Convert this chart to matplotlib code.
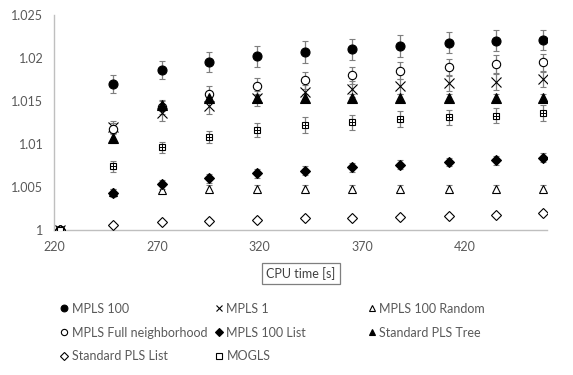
import matplotlib
matplotlib.use("Agg")
from matplotlib import pyplot as plt
from matplotlib.ticker import FuncFormatter
from matplotlib.lines import Line2D
import numpy as np

plt.rcParams['font.family'] = ['Lato', 'DejaVu Sans']

cpu_time = [222.7, 248.4, 272.3, 295.5, 318.8, 342.3, 365.3, 388.6, 412.2, 435.3, 458.3]

mpls_100 = [1.0, 1.0170, 1.0186, 1.0195, 1.0202, 1.0207, 1.0210, 1.0214, 1.0218, 1.0220, 1.0221]
mpls_100_err = [0, 0.00105, 0.0011, 0.00116, 0.0012, 0.00128, 0.00126, 0.00124, 0.0012, 0.0012, 0.0012]

mpls_full = [1.0, 1.0118, 1.0143, 1.0158, 1.0167, 1.0174, 1.0180, 1.0185, 1.0189, 1.0193, 1.0195]
mpls_full_err = [0, 0.0006, 0.0008, 0.0009, 0.001, 0.001, 0.001, 0.001, 0.001, 0.001, 0.001]

mpls_1 = [1.0, 1.0120, 1.0136, 1.0144, 1.0153, 1.0160, 1.0164, 1.0167, 1.0171, 1.0172, 1.0175]
mpls_1_err = [0, 0.0007, 0.0009, 0.0009, 0.0009, 0.0009, 0.0009, 0.0009, 0.0009, 0.0009, 0.0009]

pls_tree = [1.0, 1.0107, 1.0145, 1.0153, 1.0154, 1.0154, 1.0154, 1.0154, 1.0154, 1.0154, 1.0154]
pls_tree_err = [0, 0.0006, 0.0005, 0.0004, 0.0004, 0.0004, 0.0004, 0.0004, 0.0004, 0.0004, 0.0004]

mogls = [1.0, 1.0074, 1.0096, 1.0108, 1.0116, 1.0122, 1.0125, 1.0129, 1.0131, 1.0133, 1.0136]
mogls_err = [0, 0.0006, 0.0006, 0.0007, 0.0008, 0.0009, 0.0009, 0.0009, 0.0009, 0.0009, 0.0009]

mpls_100_list = [1.0, 1.0043, 1.0053, 1.0060, 1.0066, 1.0069, 1.0073, 1.0076, 1.0079, 1.0081, 1.0084]
mpls_100_list_err = [0, 0.0005, 0.0005, 0.0005, 0.0005, 0.0005, 0.0005, 0.0005, 0.0005, 0.0005, 0.0005]

mpls_100_random = [1.0, 1.0044, 1.0047, 1.0048, 1.0048, 1.0048, 1.0048, 1.0048, 1.0048, 1.0048, 1.0048]
mpls_100_random_err = [0, 0.0004, 0.0004, 0.0004, 0.0004, 0.0004, 0.0004, 0.0004, 0.0004, 0.0004, 0.0004]

pls_list = [1.0, 1.0006, 1.0009, 1.0011, 1.0012, 1.0014, 1.0014, 1.0015, 1.0016, 1.0017, 1.0020]
pls_list_err = [0, 0.0002, 0.0002, 0.0002, 0.0002, 0.0002, 0.0002, 0.0002, 0.0002, 0.0002, 0.0002]

fig = plt.figure(figsize=(5.73, 3.75), dpi=100)
ax = fig.add_axes([0.0951, 0.3867, 0.8589, 0.5733])

ecol = '#7f7f7f'
def series(y, err, marker, face, size, label):
    ax.errorbar(cpu_time, y, yerr=err, fmt=marker, mfc=face, mec='black',
                mew=0.8, ms=size, ecolor=ecol, elinewidth=0.9, capsize=2.5,
                capthick=0.9, zorder=3)
    # marker-only proxy for the legend
    return Line2D([], [], ls='none', marker=marker, mfc=face, mec='black',
                  mew=0.8, ms=size * 0.75, label=label)

h1 = series(mpls_100, mpls_100_err, 'o', 'black', 6.5, 'MPLS 100')
h2 = series(mpls_1, mpls_1_err, 'x', 'none', 6.5, 'MPLS 1')
h3 = series(mpls_100_random, mpls_100_random_err, '^', 'white', 6, 'MPLS 100 Random')
h4 = series(mpls_full, mpls_full_err, 'o', 'white', 6, 'MPLS Full neighborhood')
h5 = series(mpls_100_list, mpls_100_list_err, 'D', 'black', 5, 'MPLS 100 List')
h6 = series(pls_tree, pls_tree_err, '^', 'black', 6.5, 'Standard PLS Tree')
h7 = series(pls_list, pls_list_err, 'D', 'white', 5, 'Standard PLS List')
h8 = series(mogls, mogls_err, 's', 'white', 5, 'MOGLS')
ax.plot(cpu_time[1:], mogls[1:], '+', color='black', ms=4, mew=0.7, zorder=4)

ax.set_xlim(220, 460)
ax.set_ylim(1.0, 1.025)
ax.set_xticks([220, 270, 320, 370, 420])
ax.set_yticks([1.0, 1.005, 1.01, 1.015, 1.02, 1.025])
ax.yaxis.set_major_formatter(FuncFormatter(lambda v, p: f"{v:g}"))
ax.tick_params(length=0, labelsize=9, colors='#595959', pad=8)
for s in ['top', 'right']:
    ax.spines[s].set_visible(False)
for s in ['left', 'bottom']:
    ax.spines[s].set_color('#bfbfbf')
    ax.spines[s].set_linewidth(1)

ax.set_xlabel('CPU time [s]', fontsize=9, color='#404040', labelpad=10,
              bbox=dict(boxstyle='square,pad=0.35', fc='white', ec='#7f7f7f', lw=0.9))

# one legend per column, placed like the original
columns = [([h1, h4, h7], 59.3), ([h2, h5, h8], 214.0), ([h3, h6], 366.7)]
for hs, xpix in columns:
    fig.legend(hs, [h.get_label() for h in hs], loc='upper left',
               bbox_to_anchor=(xpix / 573, 0.1927), frameon=False,
               fontsize=9, handlelength=0.8, handletextpad=0.2,
               labelspacing=0.95, borderpad=0, borderaxespad=0,
               labelcolor='#595959')

plt.savefig('out.png', dpi=100)
